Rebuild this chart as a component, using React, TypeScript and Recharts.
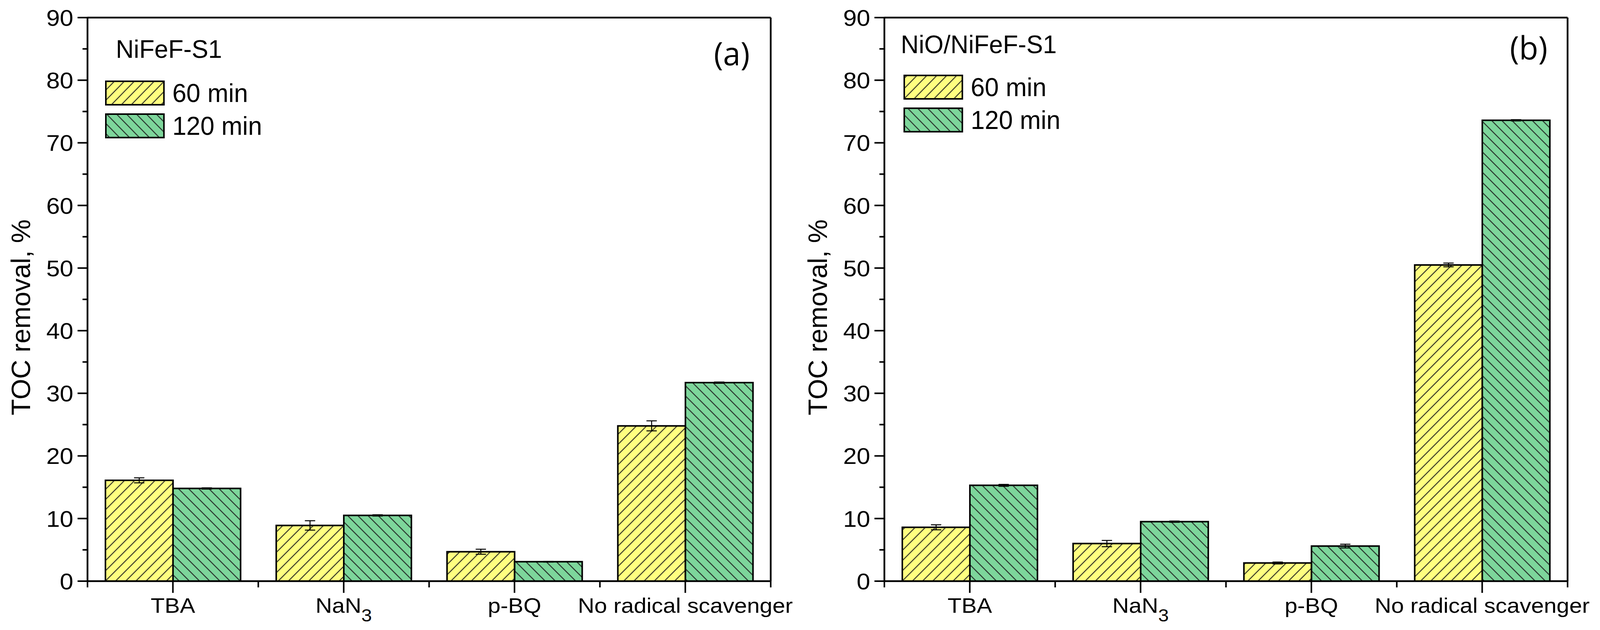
import React from "react";
import { Bar, BarChart, ErrorBar, Label, Legend, XAxis, YAxis } from "recharts";

// categories and tick labels
const categories = ["TBA", "NaN3", "p-BQ", "No radical scavenger"];
const seriesNames = ["60 min", "120 min"];
const yTicks = [0, 5, 10, 15, 20, 25, 30, 35, 40, 45, 50, 55, 60, 65, 70, 75, 80, 85, 90];

// (a) NiFeF-S1
const a60 = [16.1, 8.9, 4.7, 24.8];
const a60Err = [0.4, 0.75, 0.4, 0.8];
const a120 = [14.8, 10.5, 3.1, 31.7];
const a120Err = [0.1, 0.1, 0.05, 0.1];

// (b) NiO/NiFeF-S1
const b60 = [8.6, 6.0, 2.9, 50.5];
const b60Err = [0.4, 0.5, 0.15, 0.3];
const b120 = [15.3, 9.5, 5.6, 73.6];
const b120Err = [0.15, 0.1, 0.3, 0.1];

// fit the 4187 px wide figure into whatever width the page really has
const FULL_W = 4187;
const pageW =
    typeof document !== "undefined" && document.documentElement.clientWidth
        ? document.documentElement.clientWidth
        : FULL_W;
const SX = Math.min(1, pageW / FULL_W);

const H = 1612;
const AXIS_W = Math.round(229 * SX);
const PLOT_W = Math.round(1788 * SX);
const PANEL_A_W = Math.round(2085 * SX);
const PANEL_B_W = Math.round(FULL_W * SX) - PANEL_A_W;
const TOP = 45;
const X_AXIS_H = 125;

const FONT = "'Liberation Sans', Arial, sans-serif";
const FILLS = ["#FFFF80", "#7DD69B"];
const ANGLES = [45, -45];
const HATCH = "#1e1e1e";
const AXIS = { stroke: "#000", strokeWidth: 4.5 };

function XTick(props: any) {
    const { x, y, index, payload } = props;
    const band = PLOT_W / categories.length;
    const v = payload.value;
    return (
        <g>
            <line x1={x} y1={y} x2={x} y2={y + 30} stroke="#000" strokeWidth={4} />
            <line x1={x - band / 2} y1={y} x2={x - band / 2} y2={y + 16} stroke="#000" strokeWidth={4} />
            {index === categories.length - 1 && (
                <line x1={x + band / 2} y1={y} x2={x + band / 2} y2={y + 16} stroke="#000" strokeWidth={4} />
            )}
            <text
                transform={`translate(${x} ${y + 81}) scale(${1.13 * SX} 1)`}
                textAnchor="middle"
                fontFamily={FONT}
                fontSize={53}
                fill="#000"
            >
                {v === "NaN3" ? (
                    <>
                        <tspan>NaN</tspan>
                        <tspan dy={22} fontSize={44}>3</tspan>
                    </>
                ) : (
                    v
                )}
            </text>
        </g>
    );
}

function YTick(props: any) {
    const { x, y, payload } = props;
    const major = payload.value % 10 === 0;
    return (
        <g>
            <line x1={x - (major ? 26 : 13) * SX} y1={y} x2={x} y2={y} stroke="#000" strokeWidth={4} />
            {major && (
                <text
                    transform={`translate(${x - 37 * SX} ${y}) scale(${1.1 * SX} 1)`}
                    dy="0.36em"
                    textAnchor="end"
                    fontFamily={FONT}
                    fontSize={58}
                    fill="#000"
                >
                    {payload.value}
                </text>
            )}
        </g>
    );
}

function YLabel(props: any) {
    const vb = props.viewBox || { x: 0, y: TOP, width: AXIS_W, height: H - TOP - X_AXIS_H };
    const cx = vb.x + 54 * SX;
    const cy = vb.y + vb.height / 2 + 46;
    return (
        <text
            x={cx}
            y={cy}
            transform={`rotate(-90 ${cx} ${cy})`}
            textAnchor="middle"
            dominantBaseline="central"
            fontFamily={FONT}
            fontSize={68}
            fill="#000"
        >
            TOC removal, %
        </text>
    );
}

function Panel({ pid, width, title, tag, cfg, v60, e60, v120, e120 }: any) {
    const data = categories.map((cat, i) => ({
        cat,
        v60: v60[i],
        e60: e60[i],
        v120: v120[i],
        e120: e120[i],
    }));
    const right = width - AXIS_W - PLOT_W;

    // title, legend and panel tag, laid out on the unscaled 2085 px panel grid
    const legendContent = () => (
        <svg width={width} height={400} style={{ display: "block" }}>
            <g transform={`scale(${SX} 1)`}>
                <text x={cfg.titleX} y={cfg.titleY} fontFamily={FONT} fontSize={65} fill="#000">
                    {title}
                </text>
                {seriesNames.map((name, i) => (
                    <g key={name}>
                        <rect
                            x={cfg.boxX}
                            y={cfg.boxY + i * 84}
                            width={152}
                            height={60}
                            fill={`url(#${pid}-${i})`}
                            stroke="#000"
                            strokeWidth={4}
                        />
                        <text x={cfg.boxX + 174} y={cfg.boxY + i * 84 + 53} fontFamily={FONT} fontSize={66} fill="#000">
                            {name}
                        </text>
                    </g>
                ))}
                <text x={1915} y={cfg.tagY} textAnchor="middle" fontFamily="'Open Sans', sans-serif" fontSize={82} fill="#000">
                    {tag}
                </text>
            </g>
        </svg>
    );

    return (
        <BarChart
            width={width}
            height={H}
            data={data}
            margin={{ top: TOP - 1, right: right - 1, bottom: 0, left: 0 }}
            barCategoryGap="10.5%"
            barGap={0}
        >
            <defs>
                {FILLS.map((fill, i) => (
                    <pattern
                        key={i}
                        id={`${pid}-${i}`}
                        patternUnits="userSpaceOnUse"
                        width={18.4}
                        height={18.4}
                        patternTransform={`rotate(${ANGLES[i]})`}
                    >
                        <rect width={18.4} height={18.4} fill={fill} />
                        <line x1={9.2} y1={0} x2={9.2} y2={18.4} stroke={HATCH} strokeWidth={2.2} />
                    </pattern>
                ))}
            </defs>
            <XAxis
                dataKey="cat"
                height={X_AXIS_H}
                interval={0}
                tickLine={false}
                tickSize={0}
                tickMargin={0}
                axisLine={AXIS}
                tick={XTick}
            />
            <XAxis
                xAxisId="top"
                orientation="top"
                dataKey="cat"
                height={1}
                tick={false}
                tickLine={false}
                axisLine={AXIS}
            />
            <YAxis
                type="number"
                domain={[0, 90]}
                ticks={yTicks}
                interval={0}
                width={AXIS_W}
                tickLine={false}
                tickSize={0}
                tickMargin={0}
                axisLine={AXIS}
                tick={YTick}
                allowDataOverflow
            >
                <Label content={YLabel} />
            </YAxis>
            <YAxis
                yAxisId="right"
                orientation="right"
                type="number"
                domain={[0, 90]}
                width={1}
                tick={false}
                tickLine={false}
                axisLine={AXIS}
            />
            <Legend
                layout="horizontal"
                verticalAlign="middle"
                align="center"
                content={legendContent}
                wrapperStyle={{ left: 0, top: 0, width, height: 400, pointerEvents: "none" }}
            />
            <Bar dataKey="v60" name={seriesNames[0]} fill={`url(#${pid}-0)`} stroke="#000" strokeWidth={4} isAnimationActive={false}>
                <ErrorBar dataKey="e60" direction="y" width={13.5 * SX} stroke="#000" strokeWidth={2.5} />
            </Bar>
            <Bar dataKey="v120" name={seriesNames[1]} fill={`url(#${pid}-1)`} stroke="#000" strokeWidth={4} isAnimationActive={false}>
                <ErrorBar dataKey="e120" direction="y" width={13.5 * SX} stroke="#000" strokeWidth={2.5} />
            </Bar>
        </BarChart>
    );
}

export default function App() {
    return (
        <div
            style={{
                position: "absolute",
                left: 0,
                top: 0,
                width: PANEL_A_W + PANEL_B_W,
                height: H,
                background: "#fff",
                overflow: "hidden",
            }}
        >
            <div style={{ position: "absolute", left: 0, top: 0 }}>
                <Panel
                    pid="pa"
                    width={PANEL_A_W}
                    title="NiFeF-S1"
                    tag="(a)"
                    cfg={{ titleX: 303, titleY: 148, boxX: 277, boxY: 208, tagY: 167 }}
                    v60={a60}
                    e60={a60Err}
                    v120={a120}
                    e120={a120Err}
                />
            </div>
            <div style={{ position: "absolute", left: PANEL_A_W, top: 0 }}>
                <Panel
                    pid="pb"
                    width={PANEL_B_W}
                    title="NiO/NiFeF-S1"
                    tag="(b)"
                    cfg={{ titleX: 272, titleY: 136, boxX: 281, boxY: 193, tagY: 152 }}
                    v60={b60}
                    e60={b60Err}
                    v120={b120}
                    e120={b120Err}
                />
            </div>
        </div>
    );
}
